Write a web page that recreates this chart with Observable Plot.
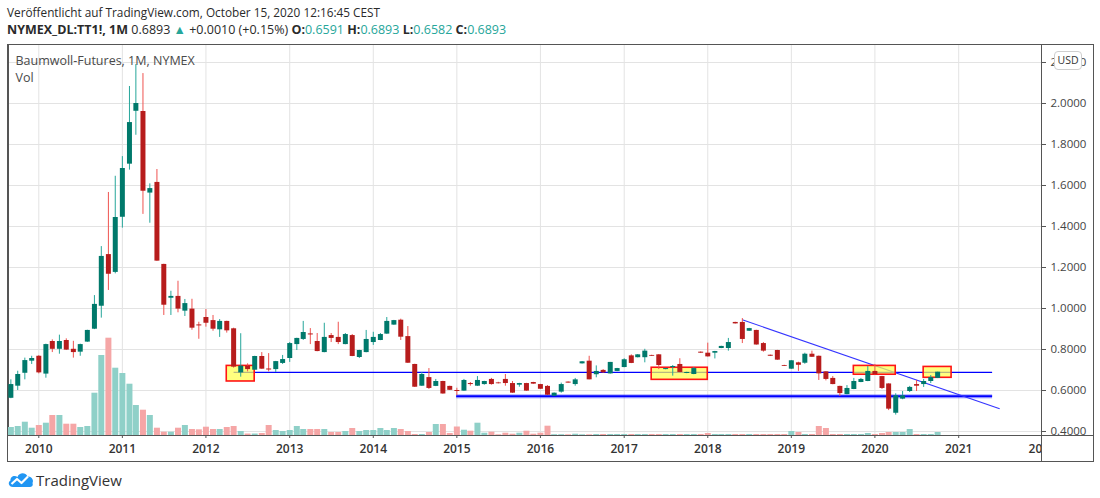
<!DOCTYPE html>
<html><head><meta charset="utf-8">
<script src="https://cdn.jsdelivr.net/npm/d3@7"></script>
<script src="https://cdn.jsdelivr.net/npm/@observablehq/plot@0.6"></script>
<style>
html,body{margin:0;padding:0;background:#fff;}
body{width:1100px;height:498px;overflow:hidden;position:relative;font-family:"Open Sans","Noto Sans",sans-serif;color:#2a2a2a;}
.hdr{position:absolute;left:7px;white-space:nowrap;line-height:18px;}
#h1{top:3px;font-size:11.8px;}
#h2{top:21px;font-size:12.5px;}
#h2 b{font-weight:700;}
.tv{color:#26a69a;}
#chart{position:absolute;left:0;top:40px;width:1100px;height:422px;}
#chart svg{position:absolute;left:0;top:0;}
#cover{position:absolute;left:1041px;top:395px;width:51px;height:25px;background:#fff;border-left:1px solid #555;border-top:1px solid #555;}
#outer{position:absolute;left:7px;top:4px;width:1085px;height:416px;border:1px solid #555;pointer-events:none;}
#usd{position:absolute;left:1054px;top:11px;width:26px;height:17px;border:1px solid #cfcfcf;border-radius:4px;background:#fff;font-size:10.5px;line-height:17px;text-align:center;color:#333;}
#logo{position:absolute;left:7px;top:470px;height:20px;display:flex;align-items:center;gap:2px;font-size:15px;color:#333;}
</style></head>
<body>
<div id="h1" class="hdr">Veröffentlicht auf TradingView.com, October 15, 2020 12:16:45 CEST</div>
<div id="h2" class="hdr"><b>NYMEX_DL:TT1!, 1M</b> 0.6893 <span class="tv">▲</span> +0.0010 (+0.15%) <b>O:</b><span class="tv">0.6591</span> <b>H:</b><span class="tv">0.6893</span> <b>L:</b><span class="tv">0.6582</span> <b>C:</b><span class="tv">0.6893</span></div>
<div id="chart"></div>
<div id="logo"><svg width="27" height="18" viewBox="0 0 27 18"><path d="M6,16 C1.5,16 0.5,11 3.5,9.5 C3,5.5 7.5,3.5 10.5,6 C12,1.5 18.5,1 20.5,5.5 C25,5 27,9.5 25.5,12 C26.5,15 24.5,16 22.5,16 Z" fill="#2196f3"/><polyline points="4.5,13 10,8 14.5,12 21,5.5" fill="none" stroke="#fff" stroke-width="2.2" stroke-linejoin="round"/></svg><span>TradingView</span></div>
<script>
// ---- data (monthly candles, Sep 2009 .. Oct 2020) ----
const firstMonth = "2009-09-01";
const lastMonth = "2020-10-01";
const open = [
0.562,0.621,0.684,0.743,
0.767,0.680,0.839,0.801,0.844,0.801,0.787,0.836,0.899,1.011,1.263,1.176,
1.445,1.704,1.962,1.961,1.563,1.615,1.215,1.050,1.059,0.987,0.997,0.920,
0.956,0.941,0.896,0.937,0.901,0.686,0.719,0.699,0.766,0.705,0.702,0.732,
0.756,0.824,0.849,0.876,0.839,0.785,0.868,0.859,0.824,0.868,0.761,0.785,
0.834,0.844,0.875,0.919,0.943,0.863,0.727,0.621,0.663,0.620,0.644,0.620,
0.600,0.597,0.634,0.621,0.629,0.654,0.637,0.654,0.634,0.626,0.634,0.639,
0.629,0.620,0.572,0.592,0.641,0.629,0.730,0.743,0.677,0.698,0.681,0.693,
0.712,0.769,0.760,0.760,0.771,0.774,0.702,0.712,0.727,0.683,0.678,0.787,
0.782,0.782,0.805,0.805,0.932,0.932,0.889,0.893,0.829,0.772,0.795,0.722,
0.704,0.735,0.733,0.777,0.767,0.691,0.659,0.620,0.580,0.605,0.639,0.644,
0.693,0.668,0.632,0.489,0.558,0.595,0.629,0.629,0.644,0.6591];
const high = [
0.652,0.694,0.758,0.767,
0.770,0.826,0.847,0.870,0.852,0.840,0.826,0.894,1.063,1.302,1.566,1.645,
1.741,2.083,2.190,2.146,1.608,1.678,1.216,1.084,1.133,1.044,1.045,0.933,
0.995,0.966,0.946,0.938,0.904,0.877,0.730,0.767,0.785,0.780,0.742,0.771,
0.834,0.855,0.937,0.902,0.878,0.928,0.878,0.933,0.878,0.873,0.796,0.893,
0.884,0.878,0.956,0.942,0.948,0.912,0.728,0.688,0.707,0.654,0.645,0.621,
0.611,0.654,0.639,0.668,0.645,0.659,0.640,0.678,0.644,0.635,0.635,0.640,
0.630,0.624,0.588,0.636,0.642,0.659,0.741,0.767,0.720,0.702,0.737,0.708,
0.755,0.774,0.775,0.801,0.772,0.775,0.708,0.722,0.755,0.689,0.712,0.788,
0.831,0.791,0.816,0.854,0.933,0.951,0.903,0.894,0.834,0.773,0.796,0.723,
0.746,0.738,0.782,0.792,0.768,0.692,0.668,0.621,0.624,0.659,0.659,0.717,
0.727,0.669,0.633,0.584,0.595,0.620,0.649,0.654,0.673,0.6893];
const low = [
0.560,0.600,0.652,0.727,
0.681,0.660,0.785,0.777,0.795,0.758,0.767,0.835,0.897,0.953,1.088,1.169,
1.392,1.675,1.845,1.459,1.416,1.230,0.966,0.966,0.979,0.961,0.894,0.850,
0.909,0.889,0.859,0.880,0.709,0.665,0.691,0.698,0.703,0.691,0.688,0.727,
0.737,0.795,0.844,0.824,0.789,0.784,0.834,0.824,0.823,0.765,0.756,0.784,
0.820,0.843,0.874,0.918,0.844,0.732,0.615,0.620,0.605,0.619,0.582,0.600,
0.575,0.596,0.621,0.620,0.626,0.626,0.632,0.621,0.586,0.616,0.596,0.630,
0.605,0.576,0.571,0.587,0.636,0.621,0.729,0.652,0.662,0.684,0.680,0.692,
0.711,0.731,0.759,0.735,0.766,0.702,0.701,0.670,0.687,0.682,0.677,0.781,
0.763,0.754,0.804,0.792,0.924,0.829,0.888,0.821,0.787,0.766,0.747,0.717,
0.703,0.693,0.728,0.761,0.649,0.647,0.628,0.571,0.579,0.604,0.638,0.643,
0.676,0.605,0.502,0.480,0.555,0.590,0.595,0.615,0.634,0.6582];
const close = [
0.629,0.678,0.746,0.756,
0.686,0.824,0.801,0.839,0.797,0.785,0.824,0.893,1.020,1.254,1.167,1.444,
1.683,1.907,2.000,1.572,1.585,1.231,1.016,1.059,0.997,1.024,0.904,0.915,
0.928,0.899,0.937,0.891,0.714,0.719,0.702,0.766,0.704,0.700,0.741,0.751,
0.829,0.854,0.883,0.871,0.790,0.859,0.854,0.834,0.873,0.766,0.795,0.849,
0.859,0.873,0.937,0.941,0.860,0.733,0.616,0.678,0.610,0.644,0.583,0.601,
0.595,0.649,0.629,0.649,0.644,0.629,0.633,0.634,0.587,0.634,0.597,0.631,
0.606,0.577,0.587,0.629,0.636,0.652,0.740,0.652,0.693,0.686,0.737,0.707,
0.750,0.732,0.774,0.792,0.767,0.722,0.707,0.717,0.688,0.688,0.707,0.782,
0.764,0.790,0.815,0.834,0.925,0.849,0.902,0.822,0.792,0.767,0.748,0.718,
0.745,0.723,0.777,0.762,0.681,0.654,0.629,0.585,0.610,0.644,0.654,0.693,
0.677,0.610,0.509,0.574,0.574,0.615,0.621,0.644,0.663,0.6893];
const volume = [
8,9,13.3,7.3,
10,12.3,20,20,11.3,11.3,8,9,42.3,80,97.3,67.3,
62,51.3,30,25.3,20,7.3,3.3,3.3,7.3,10,6,5.7,
8.3,6,6,8,9,4,1.5,1.5,2,10,5,4,
5,9,6,6,6,6,3,3,4,7,4,5,
5,7,5,7,6,4,1,1,3,11,11,2,
8.5,5.3,4.3,12.3,2.3,3.3,0.7,2.3,1.3,2.3,4.3,1.3,
2.3,9.3,0.8,0.8,0.7,1.3,0.7,0.7,1,1,1,1,
1,1,1,1,1,1,1,1,1,1,1,1,
2,1,1,1,1,1,1,1,1,1,1,1,
4,3,1,1,9,7,1,1,1,1,1,2,
1,2,3,3,3,6,1,1,1,3];

const yearTicks = ["2010","2011","2012","2013","2014","2015","2016","2017","2018","2019","2020","2021","2022"];
const priceTicks = [0.4,0.6,0.8,1.0,1.2,1.4,1.6,1.8,2.0,2.2];

// annotations drawn on the chart (dates / prices)
const levelLines = [
  {start:"2012-05-01", end:"2021-05-27", price:0.688, kind:"thin"},
  {start:"2014-12-29", end:"2021-05-27", price:0.572, kind:"thick"}
];
const trendLine = [{start:"2018-06-01", end:"2021-06-29", from:0.945, to:0.511}];
const boxes = [
  {start:"2012-04-01", end:"2012-08-01", top:0.720, bottom:0.644},
  {start:"2017-05-01", end:"2018-01-01", top:0.711, bottom:0.652},
  {start:"2019-10-01", end:"2020-04-01", top:0.720, bottom:0.677},
  {start:"2020-08-01", end:"2020-12-01", top:0.715, bottom:0.662}
];

// ---- build table ----
const dates = d3.utcMonth.range(new Date(firstMonth), d3.utcMonth.offset(new Date(lastMonth), 1));
const candles = dates.map((date, i) => ({
  date, open: open[i], high: high[i], low: low[i], close: close[i], volume: volume[i],
  up: close[i] >= open[i]
}));
const P = s => new Date(s);

const W = 1100, H = 422;
const common = {
  width: W, height: H,
  marginLeft: 8, marginRight: 59, marginTop: 4, marginBottom: 27,
  style: {background: "transparent", fontFamily: "'Open Sans','Noto Sans',sans-serif", overflow: "visible"}
};
const xScale = {type: "utc", domain: [new Date(Date.UTC(2009,7,21,16)), new Date(Date.UTC(2021,11,28,17))]};
const yPrice = {type: "linear", domain: [0.3805, 2.2878]};

// layer 1: grid + axes + frame
const layer1 = Plot.plot({
  ...common,
  x: {...xScale, axis: null},
  y: {...yPrice, axis: null},
  marks: [
    Plot.gridX(yearTicks.slice(0, -1).map(P), {stroke: "#e3e3e3", strokeOpacity: 1}),
    Plot.gridY(priceTicks, {stroke: "#e3e3e3", strokeOpacity: 1}),
    Plot.axisX(yearTicks.map(P), {anchor: "bottom", tickFormat: d3.utcFormat("%Y"), tickSize: 3, tickPadding: 6, fontSize: 12, fill: "#333", stroke: "#555", fontWeight: 600}),
    Plot.axisY(priceTicks, {anchor: "right", tickFormat: d => d.toFixed(4), tickSize: 4, tickPadding: 5, fontSize: 11.5, fill: "#444", stroke: "#555"}),
    Plot.frame({stroke: "#555"})
  ]
});

// layer 2: volume
const layer2 = Plot.plot({
  ...common,
  x: {...xScale, axis: null},
  y: {domain: [0, 391], axis: null},
  marks: [
    Plot.ruleX(candles, {x: "date", y1: 0, y2: "volume", strokeWidth: 6, strokeLinecap: "butt",
      stroke: d => d.up ? "#8fd0c8" : "#f5a6a6"})
  ]
});

// layer 3: annotations + candles + legend
const layer3 = Plot.plot({
  ...common,
  x: {...xScale, axis: null},
  y: {...yPrice, axis: null},
  marks: [
    Plot.link(levelLines.filter(d => d.kind === "thick"), {x1: d => P(d.start), x2: d => P(d.end), y1: "price", y2: "price", stroke: "#0000ff", strokeOpacity: 0.25, strokeWidth: 4.5}),
    Plot.link(levelLines.filter(d => d.kind === "thick"), {x1: d => P(d.start), x2: d => P(d.end), y1: "price", y2: "price", stroke: "#0000ff", strokeWidth: 2.2}),
    Plot.link(levelLines.filter(d => d.kind === "thin"), {x1: d => P(d.start), x2: d => P(d.end), y1: "price", y2: "price", stroke: "#0000ff", strokeWidth: 1.3}),
    Plot.link(trendLine, {x1: d => P(d.start), x2: d => P(d.end), y1: "from", y2: "to", stroke: "#3535ff", strokeWidth: 1.1}),
    Plot.rect(boxes, {x1: d => P(d.start), x2: d => P(d.end), y1: "bottom", y2: "top", fill: "#ffff4d", fillOpacity: 0.72, stroke: "#ff1414", strokeWidth: 1.6}),
    Plot.ruleX(candles, {x: "date", y1: "low", y2: "high", strokeWidth: 1, stroke: d => d.up ? "#26a69a" : "#ef5350"}),
    Plot.ruleX(candles, {x: "date", y1: "open", y2: "close", strokeWidth: 5, strokeLinecap: "butt", stroke: d => d.up ? "#00796b" : "#b71c1c"}),
    Plot.text(["Baumwoll-Futures, 1M, NYMEX"], {frameAnchor: "top-left", dx: 7, dy: 16, lineAnchor: "middle", fontSize: 12.5, fill: "#4a4a4a"}),
    Plot.text(["Vol"], {frameAnchor: "top-left", dx: 7, dy: 33, lineAnchor: "middle", fontSize: 12.5, fill: "#4a4a4a"})
  ]
});

const chart = document.getElementById("chart");
chart.append(layer1, layer2, layer3);
const cover = document.createElement("div"); cover.id = "cover"; chart.append(cover);
const outer = document.createElement("div"); outer.id = "outer"; chart.append(outer);
const usd = document.createElement("div"); usd.id = "usd"; usd.textContent = "USD"; chart.append(usd);
</script>
</body></html>
